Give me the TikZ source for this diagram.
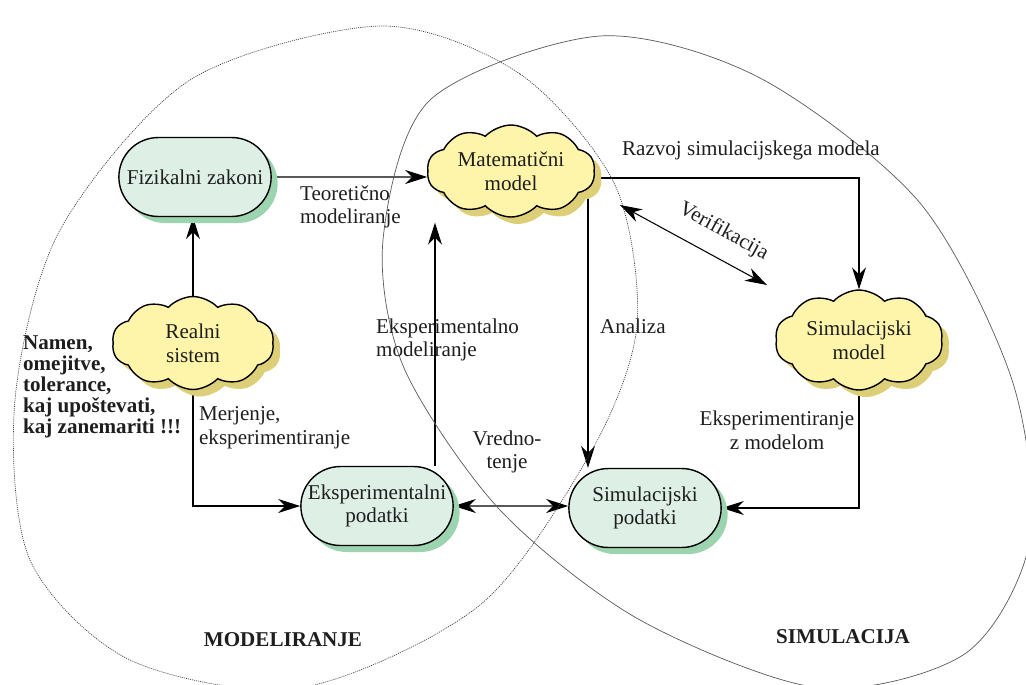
\documentclass[tikz,border=0pt]{standalone}
\usepackage{fontspec}
\setmainfont{Liberation Serif}
\usetikzlibrary{arrows.meta,shapes.symbols,shapes.misc,shadows,backgrounds}

\definecolor{boxfill}{RGB}{222,239,229}
\definecolor{boxshade}{RGB}{156,212,175}
\definecolor{cloudfill}{RGB}{255,245,170}
\definecolor{cloudshade}{RGB}{221,207,120}
\definecolor{textgray}{RGB}{30,30,30}

\newcommand{\lblfont}{\fontsize{12}{13.5}\selectfont}

\tikzset{
  datbox/.style={rounded rectangle, draw, line width=0.8pt, fill=boxfill,
    minimum width=3.28cm, minimum height=1.58cm, align=center,
    drop shadow={fill=boxshade, opacity=1, shadow xshift=0.13cm, shadow yshift=-0.13cm}},
  oblak/.style={cloud, cloud puffs=10, cloud puff arc=95, cloud ignores aspect, draw,
    line width=0.8pt, fill=cloudfill, inner sep=0pt, align=center,
    minimum width=3.36cm, minimum height=1.84cm,
    drop shadow={fill=cloudshade, opacity=1, shadow xshift=0.14cm, shadow yshift=-0.14cm}},
  lbl/.style={align=left, inner sep=1pt},
  konica/.tip={Stealth[length=4.4mm,width=2.8mm,inset=1.4mm]},
  puscica/.style={-konica, line width=0.6pt},
  dvojna/.style={konica-konica, line width=0.6pt},
  krog/.style={line width=0.4pt},
}

\begin{document}
\begin{tikzpicture}[x=0.02cm, y=-0.02cm, font=\lblfont, text=textgray]
\useasboundingbox (0,0) rectangle (1026,684);

% modeliranje (dotted) and simulacija (thin solid)
\draw[krog, black!75, dash pattern=on 0.6pt off 0.6pt] plot[smooth cycle] coordinates {
  (381,26) (520,74) (615,185) (637,325) (592,450) (480,605) (300,688) (130,660)
  (30,560) (15,400) (60,230) (190,80)};
\draw[krog, black!65] plot[smooth cycle] coordinates {
  (600,36) (760,78) (920,203) (1012,380) (1030,540) (966,653) (820,688) (640,620)
  (500,510) (404,368) (383,240) (430,100)};

% nodes
\node[datbox] (fiz) at (195,177) {Fizikalni zakoni};
\node[oblak] (mat) at (511,171) {Matematični\\model};
\node[oblak, minimum width=3.24cm, minimum height=1.86cm] (real) at (193,343) {Realni\\sistem};
\node[oblak, minimum height=2cm] (simm) at (859,340) {Simulacijski\\model};
\node[datbox] (exp) at (377,506) {Eksperimentalni\\podatki};
\node[datbox] (simp) at (645,508) {Simulacijski\\podatki};

% connectors
\coordinate (ekspod) at ([xshift=1.16cm]exp.north);
\coordinate (ekstop) at ([yshift=-0.1cm]mat.south);
\coordinate (analiza) at ([xshift=1.54cm]mat.center);
\begin{scope}[on background layer]
\draw[puscica] (fiz) -- (fiz -| mat.west);
\draw[puscica] (real) -- (real |- fiz.south);
\draw[puscica] (real) |- (exp);
\draw[puscica] (ekspod) -- (ekspod |- ekstop);
\draw[puscica] ([yshift=-0.14cm]mat.center) -| (simm.north);
\draw[puscica] (analiza) -- (analiza |- simp.north);
\draw[puscica] (simm) |- (simp);
\draw[dvojna] (exp) -- (exp -| simp.west);
\end{scope}

\coordinate (verA) at (620,205);
\coordinate (verB) at (767,285);
\draw[dvojna] (verA) -- (verB) node[pos=0.62, sloped, above=0.2cm] (verlbl) {Verifikacija};

% labels
\node[lbl, anchor=west] (teo) at (298,207) {Teoretično\\modeliranje};
\node[lbl, anchor=west] (mer) at (197,428) {Merjenje,\\eksperimentiranje};
\node[lbl, anchor=west] (eksmod) at (374,340) {Eksperimentalno\\modeliranje};
\node[lbl, anchor=west] (anal) at (598,326) {Analiza};
\node[lbl, anchor=west] (razv) at (620,150) {Razvoj simulacijskega modela};
\node[lbl, align=center] (vred) at (507,452) {Vredno-\\tenje};
\node[lbl, align=center] (eksz) at (777,430) {Eksperimentiranje\\z modelom};
\node[lbl, anchor=west, font=\fontsize{12}{12}\selectfont\bfseries] (namen) at (21,387)
  {Namen,\\omejitve,\\tolerance,\\kaj upoštevati,\\kaj zanemariti !!!};
\node[font=\lblfont\bfseries] (modl) at (283,640) {MODELIRANJE};
\node[font=\lblfont\bfseries] (siml) at (843,637) {SIMULACIJA};

\end{tikzpicture}
\end{document}
